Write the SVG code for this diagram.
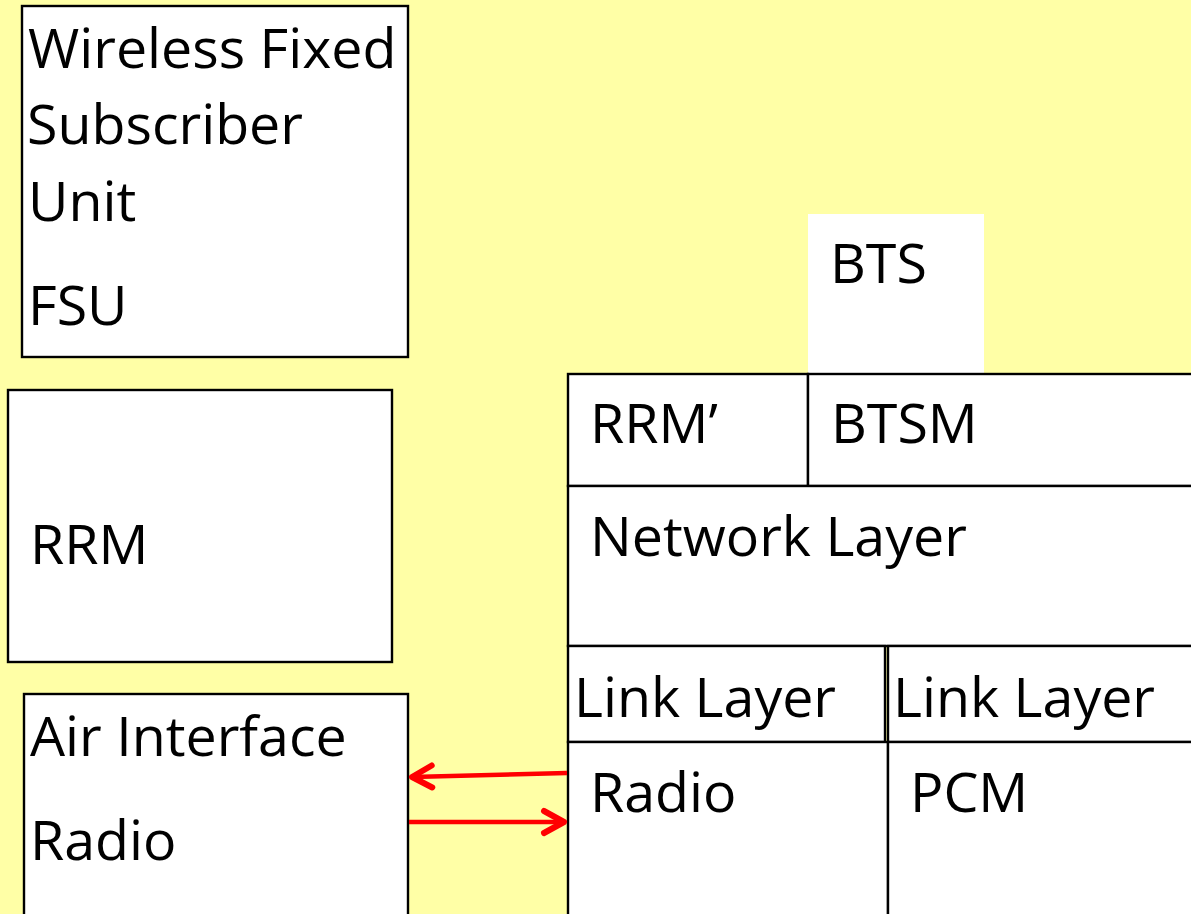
<svg xmlns="http://www.w3.org/2000/svg" width="1191" height="914" viewBox="0 0 1191 914">
  <style>
    .box { fill: #FFFFFF; stroke: #000000; stroke-width: 2.4; }
    .plain { fill: #FFFFFF; stroke: none; }
    .t { font-family: "Open Sans", "Liberation Sans", sans-serif; font-size: 55.5px; fill: #000000; }
    .arrow { stroke: #FF0000; stroke-width: 4.5; fill: none; }
  </style>
  <defs>
    <marker id="head" markerUnits="userSpaceOnUse" markerWidth="32" markerHeight="32" viewBox="-27 -16 32 32" refX="0" refY="0" orient="auto">
      <path d="M -20,-11 L 0,0 L -20,11" fill="none" stroke="#FF0000" stroke-width="6" stroke-linecap="round" stroke-linejoin="round"/>
    </marker>
  </defs>
  <rect x="0" y="0" width="1191" height="914" fill="#FFFFA6"/>

  <g id="fsu">
    <rect class="box" x="22" y="6" width="386" height="351"/>
    <text class="t" x="28" y="68">Wireless Fixed</text>
    <text class="t" x="27" y="144">Subscriber</text>
    <text class="t" x="28" y="221">Unit</text>
    <text class="t" x="28" y="325">FSU</text>
  </g>

  <g id="rrm">
    <rect class="box" x="8" y="390" width="384" height="272"/>
    <text class="t" x="30" y="564">RRM</text>
  </g>

  <g id="air-interface">
    <rect class="box" x="24" y="694" width="384" height="230"/>
    <text class="t" x="30" y="756">Air Interface</text>
    <text class="t" x="30" y="860">Radio</text>
  </g>

  <g id="bts-title">
    <rect class="plain" x="808" y="214" width="176" height="161"/>
    <text class="t" x="830" y="283">BTS</text>
  </g>

  <g id="bts">
    <rect class="box" x="568" y="374" width="240" height="112"/>
    <text class="t" x="590" y="443">RRM’</text>
    <rect class="box" x="808" y="374" width="400" height="112"/>
    <text class="t" x="831" y="443">BTSM</text>
    <rect class="box" x="568" y="486" width="640" height="160"/>
    <text class="t" x="590" y="556">Network Layer</text>
    <rect class="box" x="568" y="646" width="317" height="96"/>
    <text class="t" x="574" y="717">Link Layer</text>
    <rect class="box" x="888" y="646" width="320" height="96"/>
    <text class="t" x="893" y="717">Link Layer</text>
    <rect class="box" x="568" y="742" width="320" height="190"/>
    <text class="t" x="590" y="812">Radio</text>
    <rect class="box" x="888" y="742" width="320" height="190"/>
    <text class="t" x="910" y="812">PCM</text>
  </g>

  <g id="connectors">
    <line class="arrow" x1="567" y1="773" x2="412" y2="777" marker-end="url(#head)"/>
    <line class="arrow" x1="409" y1="822" x2="564" y2="822" marker-end="url(#head)"/>
  </g>
</svg>
